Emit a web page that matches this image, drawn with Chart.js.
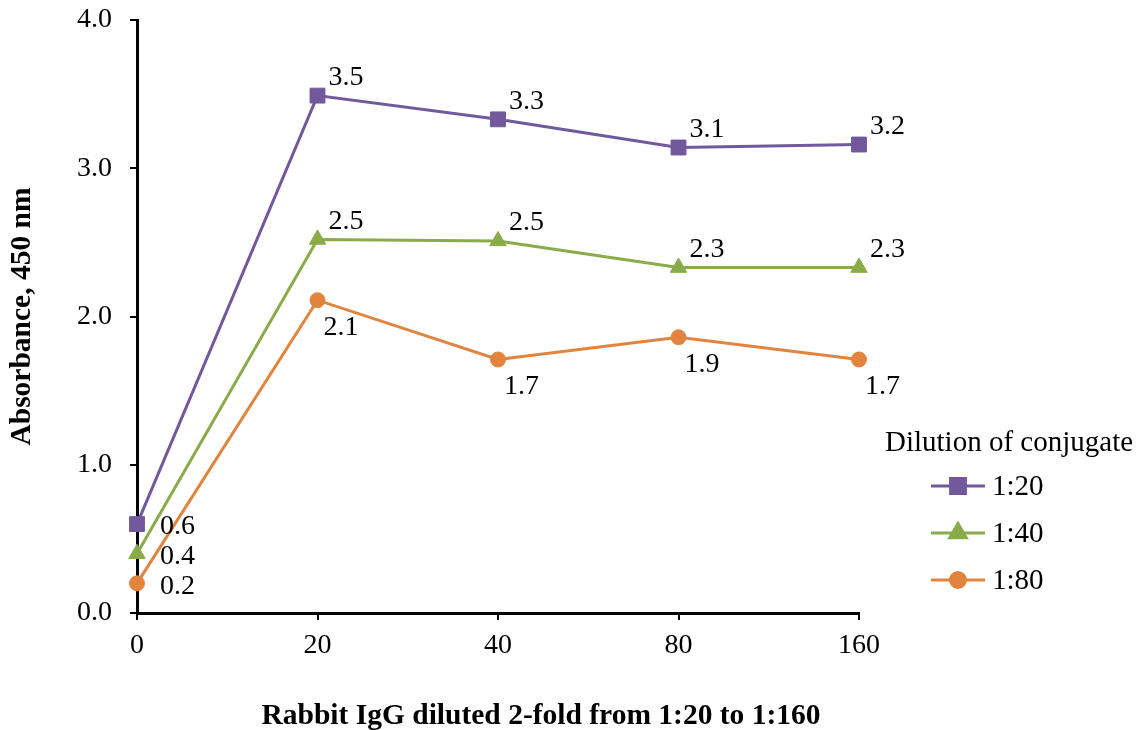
<!DOCTYPE html>
<html>
<head>
<meta charset="utf-8">
<script src="https://cdn.jsdelivr.net/npm/chart.js@4"></script>
<style>
  html, body { margin: 0; padding: 0; background: #fff; }
  #wrap { width: 1137px; height: 730px; }
</style>
</head>
<body>
<div id="wrap"><canvas id="lineChart" width="1137" height="730"></canvas></div>
<script>
var categories = ["0", "20", "40", "80", "160"];
var seriesNames = ["1:20", "1:40", "1:80"];
var dil20 = [0.60, 3.49, 3.33, 3.14, 3.16];
var dil40 = [0.40, 2.52, 2.51, 2.33, 2.33];
var dil80 = [0.20, 2.11, 1.71, 1.86, 1.71];
var yTicks = [0, 1, 2, 3, 4];

var serif = '"Liberation Serif", "Times New Roman", serif';
var colors = ["#72599C", "#8AAB4A", "#E2843D"];
var markers = ["rect", "triangle", "circle"];
var markerSize = [10.5, 9.5, 7.5];

// data labels next to each point
var valueLabels = {
    id: "valueLabels",
    afterDatasetsDraw: function (chart) {
        var ctx = chart.ctx;
        ctx.save();
        ctx.font = "28px " + serif;
        ctx.fillStyle = "#000";
        ctx.textAlign = "left";
        ctx.textBaseline = "middle";
        chart.data.datasets.forEach(function (ds, i) {
            var meta = chart.getDatasetMeta(i);
            meta.data.forEach(function (pt, j) {
                var dx, dy;
                if (j == 0) { dx = 23; dy = 3; }
                else if (i == 2) { dx = 6; dy = 27; }
                else { dx = 11; dy = -18; }
                ctx.fillText(ds.data[j].toFixed(1), pt.x + dx, pt.y + dy);
            });
        });
        ctx.restore();
    }
};

// legend box in the lower right + x axis title
var sideLegend = {
    id: "sideLegend",
    afterDraw: function (chart) {
        var ctx = chart.ctx;
        ctx.save();
        ctx.fillStyle = "#000";
        ctx.textBaseline = "middle";
        ctx.font = "29px " + serif;
        ctx.textAlign = "left";
        ctx.fillText("Dilution of conjugate", 885, 443);
        chart.data.datasets.forEach(function (ds, i) {
            var y = 486 + i * 47;
            ctx.strokeStyle = ds.borderColor;
            ctx.lineWidth = 3;
            ctx.beginPath();
            ctx.moveTo(931, y);
            ctx.lineTo(985, y);
            ctx.stroke();
            Chart.helpers.drawPoint(ctx, {
                pointStyle: ds.pointStyle, radius: ds.pointRadius, borderWidth: 1
            }, 958, y);
            ctx.fillStyle = ds.backgroundColor;
            ctx.strokeStyle = ds.borderColor;
            ctx.fill();
            ctx.fillStyle = "#000";
            ctx.fillText(ds.label, 992, y + 1);
        });
        ctx.font = "bold 29.5px " + serif;
        ctx.textAlign = "center";
        ctx.fillText("Rabbit IgG diluted 2-fold from 1:20 to 1:160", 541, 716);
        ctx.restore();
    }
};

function makeSet(name, values, i) {
    return {
        label: name,
        data: values,
        borderColor: colors[i],
        backgroundColor: colors[i],
        borderWidth: 3,
        pointStyle: markers[i],
        pointRadius: markerSize[i],
        pointHoverRadius: markerSize[i],
        pointBorderWidth: 1,
        tension: 0
    };
}

var ctxL = document.getElementById("lineChart").getContext("2d");
var myLineChart = new Chart(ctxL, {
    type: "line",
    data: {
        labels: categories,
        datasets: [
            makeSet(seriesNames[0], dil20, 0),
            makeSet(seriesNames[1], dil40, 1),
            makeSet(seriesNames[2], dil80, 2)
        ]
    },
    plugins: [valueLabels, sideLegend],
    options: {
        responsive: false,
        animation: false,
        layout: { padding: { left: 0, top: 20, right: 278, bottom: 0 } },
        plugins: { legend: { display: false }, tooltip: { enabled: false } },
        scales: {
            x: {
                offset: false,
                grid: { drawOnChartArea: false, drawTicks: true, tickLength: 7, color: "#000", lineWidth: 2 },
                border: { color: "#000", width: 3 },
                ticks: { color: "#000", font: { family: serif, size: 28 }, padding: 9, maxRotation: 0 },
                afterFit: function (scale) { scale.height = 117; }
            },
            y: {
                min: 0,
                max: 4,
                afterBuildTicks: function (scale) {
                    scale.ticks = yTicks.map(function (v) { return { value: v }; });
                },
                grid: { drawOnChartArea: false, drawTicks: true, tickLength: 7, color: "#000", lineWidth: 2 },
                border: { color: "#000", width: 3 },
                ticks: {
                    color: "#000", font: { family: serif, size: 28 }, padding: 18,
                    callback: function (v) { return Number(v).toFixed(1); }
                },
                title: {
                    display: true,
                    text: "Absorbance, 450 nm",
                    color: "#000",
                    font: { family: serif, size: 29.5, weight: "bold" },
                    padding: { top: 5, bottom: 0 }
                },
                afterFit: function (scale) {
                    scale.width = 137;
                    scale.paddingTop = 0;
                    scale.paddingBottom = 0;
                }
            }
        }
    }
});
</script>
</body>
</html>
